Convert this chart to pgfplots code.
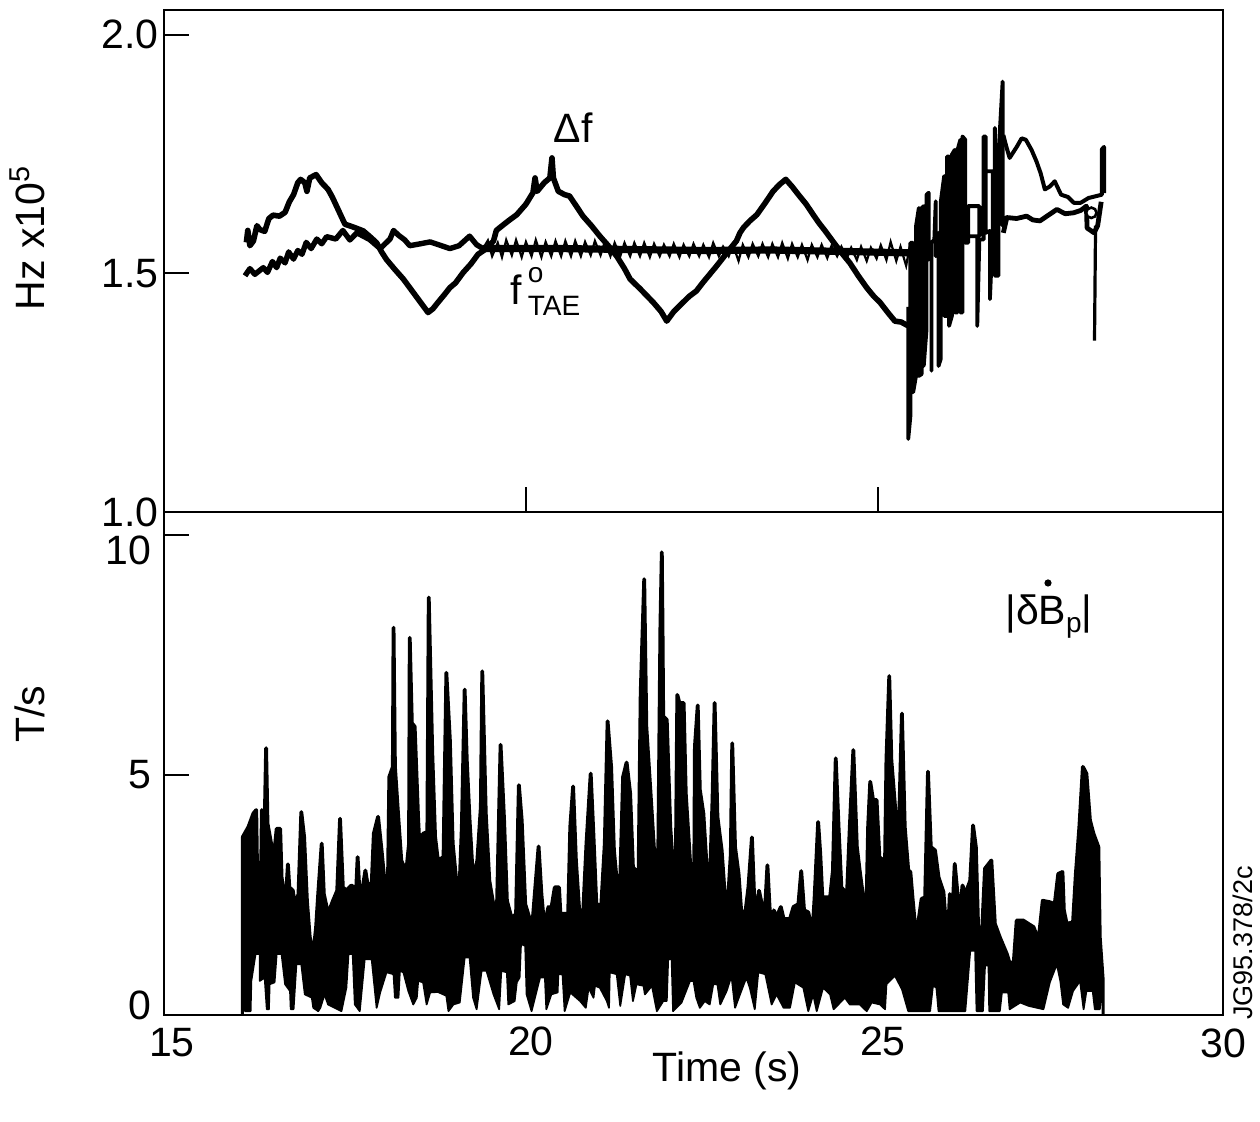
\documentclass[border=0pt]{standalone}
\usepackage{fontspec}
\setmainfont{Liberation Sans}
\usepackage{pgfplots}
\pgfplotsset{compat=1.18}
\newcommand{\bigf}{\fontsize{20.5}{24}\selectfont}
\newcommand{\subf}{\fontsize{14}{16}\selectfont}
\begin{document}
\begin{tikzpicture}
\useasboundingbox (0,0) rectangle (630pt,561pt);
% upper panel
\begin{axis}[at={(82pt,305pt)},anchor=south west,scale only axis,width=529.5pt,height=251pt,
 xmin=14.86,xmax=29.90,ymin=1.0,ymax=2.052,
 xtick={20,25},xticklabels={},ytick={1,1.5,2},yticklabels={1.0,1.5,2.0},
 xtick pos=bottom,ytick pos=left,tick align=inside,
 x tick style={line width=0.9pt,black},y tick style={line width=0.9pt,black},
 major tick length=12.5pt,
 axis line style={line width=0.9pt},
 yticklabel style={font=\bigf,inner sep=0pt,xshift=-2.5pt},
 clip=false]
% Delta f
\addplot[black,line width=2.8pt,line join=round] coordinates {
(16.03,1.565)(16.05,1.590)(16.08,1.558)(16.13,1.568)(16.18,1.600)(16.22,1.592)(16.29,1.588)(16.35,1.615)(16.41,1.622)(16.50,1.620)(16.58,1.628)(16.64,1.650)(16.70,1.665)(16.76,1.690)(16.80,1.697)(16.86,1.690)(16.89,1.672)(16.93,1.700)(17.02,1.707)(17.10,1.690)(17.19,1.676)(17.25,1.660)(17.31,1.641)(17.37,1.622)(17.43,1.603)(17.55,1.597)(17.69,1.589)(17.80,1.575)(17.88,1.564)(17.95,1.545)(18.02,1.529)(18.14,1.508)(18.26,1.488)(18.36,1.468)(18.47,1.446)(18.55,1.430)(18.61,1.418)(18.68,1.426)(18.75,1.439)(18.84,1.455)(18.92,1.470)(19.00,1.480)(19.11,1.502)(19.22,1.520)(19.32,1.540)(19.44,1.552)(19.54,1.568)(19.58,1.590)(19.63,1.596)(19.75,1.610)(19.87,1.623)(20.00,1.645)(20.10,1.669)(20.13,1.700)(20.16,1.672)(20.26,1.690)(20.34,1.700)(20.37,1.742)(20.39,1.700)(20.46,1.672)(20.55,1.665)(20.62,1.662)(20.72,1.640)(20.81,1.620)(20.93,1.600)(21.05,1.578)(21.17,1.558)(21.29,1.536)(21.40,1.510)(21.48,1.488)(21.62,1.468)(21.81,1.439)(21.92,1.420)(22.00,1.400)(22.10,1.420)(22.23,1.439)(22.32,1.452)(22.42,1.463)(22.52,1.482)(22.61,1.498)(22.70,1.514)(22.78,1.529)(22.88,1.548)(22.99,1.568)(23.04,1.585)(23.09,1.596)(23.18,1.610)(23.28,1.623)(23.40,1.648)(23.51,1.672)(23.60,1.686)(23.69,1.697)(23.78,1.682)(23.87,1.665)(23.98,1.645)(24.08,1.623)(24.16,1.606)(24.25,1.589)(24.32,1.575)(24.39,1.561)(24.50,1.540)(24.60,1.522)(24.72,1.495)(24.84,1.470)(24.94,1.452)(25.03,1.439)(25.14,1.418)(25.24,1.400)(25.33,1.398)(25.43,1.390)};
% f TAE, left part
\addplot[black,line width=2.7pt,line join=round] coordinates {
(16.01,1.495)(16.08,1.510)(16.15,1.498)(16.27,1.512)(16.33,1.502)(16.40,1.525)(16.46,1.512)(16.51,1.532)(16.58,1.522)(16.63,1.545)(16.70,1.530)(16.76,1.548)(16.82,1.540)(16.88,1.565)(16.95,1.552)(17.03,1.572)(17.10,1.562)(17.17,1.577)(17.30,1.572)(17.40,1.590)(17.50,1.570)(17.60,1.585)(17.78,1.571)(17.93,1.552)(18.07,1.572)(18.12,1.590)(18.19,1.580)(18.28,1.570)(18.35,1.558)(18.50,1.562)(18.64,1.566)(18.80,1.558)(18.92,1.552)(19.05,1.558)(19.20,1.578)(19.30,1.560)(19.39,1.552)};
% f TAE, central thick band
\addplot[black,line width=3.6pt,line join=round] coordinates {
(19.39,1.552)(20.50,1.552)(21.50,1.550)(22.50,1.548)(23.50,1.549)(24.50,1.546)(25.45,1.543)};
% f TAE, teeth of the band
\addplot[black,line width=1.1pt,line join=miter] coordinates {
(19.39,1.552)(19.46,1.569)(19.52,1.536)(19.60,1.564)(19.66,1.534)(19.72,1.570)(19.80,1.538)(19.86,1.570)(19.94,1.534)(20.00,1.566)(20.08,1.536)(20.14,1.570)(20.22,1.534)(20.28,1.566)(20.36,1.536)(20.42,1.568)(20.50,1.536)(20.56,1.568)(20.64,1.536)(20.70,1.568)(20.78,1.536)(20.84,1.566)(20.92,1.538)(20.98,1.568)(21.06,1.538)(21.12,1.566)(21.20,1.536)(21.26,1.564)(21.34,1.536)(21.40,1.564)(21.48,1.536)(21.54,1.564)(21.62,1.536)(21.68,1.564)(21.76,1.534)(21.82,1.562)(21.90,1.536)(21.96,1.560)(22.04,1.536)(22.10,1.562)(22.18,1.534)(22.24,1.560)(22.32,1.536)(22.38,1.562)(22.46,1.536)(22.52,1.560)(22.60,1.534)(22.66,1.564)(22.74,1.536)(22.80,1.556)(22.88,1.536)(22.94,1.560)(23.02,1.526)(23.08,1.560)(23.16,1.534)(23.22,1.562)(23.30,1.536)(23.36,1.562)(23.44,1.534)(23.50,1.562)(23.58,1.534)(23.64,1.564)(23.72,1.531)(23.78,1.562)(23.86,1.534)(23.92,1.560)(24.00,1.528)(24.06,1.560)(24.14,1.534)(24.20,1.560)(24.28,1.532)(24.34,1.558)(24.42,1.536)(24.48,1.556)(24.56,1.532)(24.62,1.554)(24.70,1.528)(24.76,1.556)(24.84,1.526)(24.90,1.554)(24.98,1.531)(25.04,1.559)(25.12,1.528)(25.18,1.566)(25.26,1.526)(25.32,1.556)(25.40,1.516)(25.45,1.556)};
% oscillating part, both traces
\addplot[black,line width=1.9pt,line join=round] coordinates {
(25.43,1.43)(25.43,1.153)(25.46,1.20)(25.46,1.564)(25.50,1.564)(25.50,1.251)(25.54,1.285)(25.54,1.599)(25.58,1.637)(25.58,1.285)(25.62,1.289)(25.62,1.637)(25.65,1.641)(25.65,1.306)(25.69,1.383)(25.69,1.665)(25.72,1.669)(25.72,1.529)(25.76,1.564)(25.76,1.296)(25.76,1.564)(25.80,1.571)(25.82,1.651)(25.82,1.536)(25.86,1.585)(25.86,1.306)(25.89,1.320)(25.89,1.648)(25.94,1.704)(25.94,1.411)(25.98,1.411)(25.98,1.745)(26.01,1.745)(26.01,1.390)(26.05,1.411)(26.05,1.749)(26.09,1.759)(26.09,1.418)(26.13,1.418)(26.13,1.759)(26.17,1.780)(26.17,1.418)(26.20,1.418)(26.20,1.787)(26.24,1.780)(26.24,1.564)(26.28,1.564)(26.28,1.641)(26.44,1.641)(26.44,1.578)(26.28,1.578)(26.41,1.578)(26.41,1.390)(26.44,1.571)(26.50,1.571)(26.50,1.787)(26.53,1.787)(26.53,1.585)(26.59,1.589)(26.59,1.446)(26.63,1.585)(26.63,1.714)(26.54,1.714)(26.66,1.714)(26.66,1.805)(26.66,1.495)(26.71,1.495)(26.71,1.745)(26.77,1.902)(26.77,1.60)(26.80,1.62)};
% Delta f, right part
\addplot[black,line width=2pt,line join=round] coordinates {
(26.78,1.79)(26.82,1.767)(26.87,1.742)(26.97,1.765)(27.04,1.783)(27.10,1.780)(27.18,1.759)(27.25,1.735)(27.31,1.710)(27.37,1.676)(27.44,1.682)(27.51,1.693)(27.60,1.665)(27.70,1.660)(27.78,1.648)(27.88,1.648)(27.99,1.658)(28.10,1.662)(28.18,1.665)(28.18,1.760)(28.21,1.765)(28.21,1.668)};
% f TAE, right part
\addplot[black,line width=2.4pt,line join=round] coordinates {
(26.78,1.585)(26.83,1.617)(26.97,1.615)(27.11,1.620)(27.20,1.612)(27.30,1.610)(27.42,1.622)(27.54,1.634)(27.66,1.625)(27.78,1.627)(27.88,1.632)(27.96,1.641)(27.97,1.595)(28.07,1.585)(28.12,1.600)(28.17,1.650)};
\addplot[black,line width=1.6pt] coordinates {(28.09,1.600)(28.075,1.359)};
\addplot[only marks,mark=*,mark size=2.6pt,mark options={fill=white,draw=black,line width=1.3pt}] coordinates {(28.03,1.627)};
\end{axis}
% lower panel
\begin{axis}[at={(82pt,53.5pt)},anchor=south west,scale only axis,width=529.5pt,height=251.5pt,
 xmin=14.86,xmax=29.90,ymin=0,ymax=10.48,axis on top,
 xtick={20,25},xticklabels={20,25},
 ytick={0,5,10},yticklabels={{\raisebox{5pt}[0.7em][0pt]{0}},5,{\raisebox{-7.5pt}[0.7em][0pt]{10}}},
 xtick pos=bottom,ytick pos=left,tick align=inside,
 x tick style={draw=none},y tick style={line width=0.9pt,black},
 major tick length=12.5pt,
 axis line style={line width=0.9pt},
 xticklabel style={font=\bigf,inner sep=0pt,yshift=-5.5pt,xshift=2.5pt},
 yticklabel style={font=\bigf,inner sep=0pt,xshift=-6pt}]
\addplot[fill=black,draw=black,line width=1.9pt,line join=round] coordinates {
(15.98,0.3)(15.98,3.71)(16.06,3.92)(16.13,4.20)(16.17,4.27)(16.18,3.22)(16.21,3.01)(16.24,3.05)(16.25,4.27)(16.29,3.99)(16.31,5.56)(16.33,3.99)(16.39,3.50)(16.43,3.43)(16.46,3.88)(16.51,3.88)(16.53,2.87)(16.55,2.66)(16.60,2.66)(16.62,3.14)(16.64,2.66)(16.69,2.59)(16.72,2.28)(16.77,2.52)(16.81,4.23)(16.85,3.71)(16.89,2.38)(16.93,1.62)(16.98,1.27)(17.02,1.83)(17.05,2.52)(17.10,3.57)(17.13,2.52)(17.19,2.11)(17.26,2.38)(17.32,2.59)(17.36,4.09)(17.40,2.66)(17.45,2.59)(17.52,2.70)(17.59,2.63)(17.61,3.29)(17.64,2.45)(17.69,2.73)(17.72,3.01)(17.75,2.73)(17.81,2.73)(17.84,3.78)(17.90,4.13)(17.95,3.43)(18.00,2.66)(18.04,2.70)(18.06,4.96)(18.11,5.17)(18.12,8.07)(18.14,5.17)(18.19,4.06)(18.23,3.22)(18.30,2.98)(18.34,3.57)(18.35,7.86)(18.38,6.08)(18.42,6.01)(18.47,4.06)(18.50,3.19)(18.54,3.78)(18.60,3.81)(18.62,8.70)(18.67,5.45)(18.71,3.71)(18.75,3.22)(18.83,3.29)(18.87,7.13)(18.92,5.73)(18.96,3.57)(19.02,2.66)(19.05,2.38)(19.09,3.92)(19.13,6.78)(19.16,5.31)(19.20,4.06)(19.25,2.80)(19.31,3.22)(19.36,4.34)(19.38,7.16)(19.43,4.20)(19.48,2.80)(19.54,2.28)(19.59,2.31)(19.64,5.63)(19.69,4.06)(19.73,2.38)(19.80,2.00)(19.86,2.11)(19.90,4.79)(19.94,4.06)(19.99,2.31)(20.06,1.97)(20.10,2.04)(20.18,3.51)(20.22,2.52)(20.26,1.86)(20.32,2.25)(20.36,2.21)(20.41,2.66)(20.47,2.66)(20.49,2.11)(20.60,2.11)(20.63,3.92)(20.67,4.76)(20.71,3.22)(20.76,2.11)(20.81,2.04)(20.86,3.57)(20.92,5.03)(20.96,3.71)(21.00,2.31)(21.07,2.28)(21.12,3.57)(21.16,6.12)(21.21,5.17)(21.25,3.43)(21.29,2.80)(21.34,2.84)(21.38,4.96)(21.43,5.26)(21.48,4.62)(21.52,3.08)(21.60,2.94)(21.63,6.71)(21.68,9.08)(21.71,6.01)(21.77,4.62)(21.82,3.43)(21.88,3.43)(21.91,8.10)(21.93,9.64)(21.94,8.10)(21.95,6.22)(22.00,6.15)(22.05,3.92)(22.08,3.29)(22.13,3.30)(22.15,6.67)(22.18,6.50)(22.24,6.50)(22.27,4.62)(22.33,3.22)(22.35,2.80)(22.39,2.80)(22.40,5.59)(22.44,6.45)(22.47,4.69)(22.52,4.20)(22.57,3.01)(22.61,2.63)(22.65,4.48)(22.68,6.50)(22.72,4.13)(22.78,3.43)(22.83,2.38)(22.87,2.38)(22.91,3.36)(22.93,5.66)(22.97,3.50)(23.02,2.94)(23.06,2.11)(23.12,2.18)(23.16,2.66)(23.21,3.70)(23.24,2.52)(23.28,2.18)(23.31,2.59)(23.35,2.31)(23.40,2.31)(23.43,3.12)(23.46,2.25)(23.49,1.76)(23.52,2.18)(23.56,2.04)(23.62,2.25)(23.66,2.00)(23.75,2.00)(23.80,2.25)(23.87,2.31)(23.91,3.00)(23.95,2.18)(24.01,2.14)(24.07,1.72)(24.10,2.45)(24.15,4.02)(24.18,3.36)(24.21,2.45)(24.32,2.45)(24.36,3.01)(24.40,5.35)(24.44,3.92)(24.48,2.66)(24.56,2.52)(24.60,3.92)(24.65,5.52)(24.70,3.50)(24.74,3.01)(24.79,2.45)(24.84,2.49)(24.86,3.92)(24.89,4.86)(24.93,4.48)(24.98,4.48)(25.02,3.29)(25.10,3.19)(25.12,5.31)(25.16,7.06)(25.19,5.31)(25.26,4.02)(25.30,4.02)(25.34,6.28)(25.38,3.92)(25.43,3.01)(25.46,2.98)(25.49,2.45)(25.54,1.65)(25.57,1.90)(25.62,2.42)(25.67,2.45)(25.71,5.07)(25.75,3.50)(25.81,3.43)(25.86,2.87)(25.93,2.56)(25.97,1.79)(26.00,1.83)(26.02,2.52)(26.05,1.41)(26.07,2.52)(26.09,3.15)(26.13,2.52)(26.17,2.18)(26.20,2.70)(26.24,2.52)(26.31,2.80)(26.35,3.95)(26.39,3.50)(26.43,1.44)(26.47,1.48)(26.52,3.05)(26.61,3.22)(26.66,1.90)(26.73,1.62)(26.83,1.27)(26.88,1.03)(26.93,1.13)(26.97,1.97)(27.06,1.97)(27.21,1.83)(27.28,1.55)(27.34,2.38)(27.44,2.35)(27.51,2.31)(27.56,2.94)(27.62,2.98)(27.64,2.18)(27.68,1.90)(27.77,1.93)(27.81,2.94)(27.86,3.92)(27.91,5.17)(27.96,5.03)(28.01,4.06)(28.06,3.78)(28.13,3.50)(28.15,1.62)(28.19,0.78)} \closedcycle;
\addplot[fill=white,draw=black,line width=0.9pt,line join=round] coordinates {
(15.98,0.3)(16.01,0.08)(16.09,0.08)(16.10,0.71)(16.16,1.27)(16.22,1.27)(16.22,0.71)(16.29,0.78)(16.32,0.12)(16.35,0.12)(16.36,0.64)(16.43,0.68)(16.46,1.27)(16.53,1.27)(16.58,0.64)(16.65,0.50)(16.66,0.12)(16.70,0.12)(16.74,1.06)(16.81,1.06)(16.86,0.43)(16.96,0.36)(16.98,0.15)(17.05,0.08)(17.08,0.15)(17.14,0.43)(17.19,0.22)(17.38,0.08)(17.45,0.57)(17.48,1.27)(17.54,1.27)(17.57,0.22)(17.64,0.08)(17.71,1.16)(17.81,1.16)(17.88,0.15)(17.93,0.47)(18.02,0.89)(18.12,0.85)(18.14,0.36)(18.19,0.36)(18.21,0.92)(18.26,0.89)(18.33,0.50)(18.40,0.22)(18.45,0.36)(18.47,0.71)(18.54,0.68)(18.59,0.22)(18.64,0.47)(18.75,0.48)(18.87,0.40)(18.90,0.08)(18.97,0.22)(19.06,0.26)(19.13,1.20)(19.20,1.20)(19.25,0.36)(19.30,0.12)(19.37,0.92)(19.44,0.92)(19.54,0.43)(19.62,0.12)(19.65,0.92)(19.73,0.89)(19.75,0.22)(19.84,0.29)(19.87,0.68)(19.91,0.78)(19.93,1.48)(19.99,1.44)(20.01,0.43)(20.08,0.08)(20.20,0.78)(20.27,0.78)(20.29,0.12)(20.36,0.43)(20.45,0.47)(20.46,0.85)(20.52,0.85)(20.55,0.08)(20.63,0.47)(20.77,0.29)(20.85,0.15)(20.89,0.57)(20.96,0.36)(20.98,0.61)(21.05,0.57)(21.15,0.29)(21.18,0.15)(21.19,0.89)(21.29,0.85)(21.34,0.19)(21.41,0.85)(21.48,0.82)(21.52,0.29)(21.57,0.64)(21.67,0.61)(21.69,0.43)(21.79,0.61)(21.86,0.08)(21.95,0.29)(22.00,0.29)(22.02,1.16)(22.07,1.16)(22.09,0.08)(22.21,0.26)(22.33,0.71)(22.38,0.71)(22.42,0.36)(22.47,0.15)(22.54,0.29)(22.61,0.22)(22.66,0.64)(22.72,0.64)(22.76,0.22)(22.85,0.50)(22.92,0.82)(22.97,0.15)(23.04,0.43)(23.13,0.78)(23.18,0.57)(23.25,0.12)(23.30,0.89)(23.40,0.85)(23.49,0.22)(23.56,0.43)(23.66,0.15)(23.75,0.15)(23.82,0.68)(23.94,0.57)(24.01,0.08)(24.08,0.43)(24.13,0.08)(24.22,0.57)(24.32,0.43)(24.37,0.12)(24.53,0.36)(24.60,0.22)(24.74,0.22)(24.84,0.08)(24.91,0.26)(25.03,0.22)(25.10,0.12)(25.12,0.64)(25.24,0.82)(25.34,0.54)(25.43,0.08)(25.74,0.08)(25.78,0.61)(25.83,0.57)(25.86,0.08)(26.24,0.08)(26.31,1.34)(26.38,1.34)(26.40,0.08)(26.49,0.08)(26.52,1.03)(26.57,1.03)(26.58,0.08)(26.73,0.08)(26.76,0.47)(26.85,0.47)(26.87,0.12)(27.02,0.26)(27.14,0.19)(27.35,0.12)(27.44,0.68)(27.54,1.06)(27.59,0.71)(27.63,0.22)(27.70,0.15)(27.77,0.50)(27.87,0.71)(27.92,0.12)(27.96,0.50)(28.05,0.50)(28.08,0.12)(28.15,0.12)(28.19,0.78)} \closedcycle;
\end{axis}
% texts
\node[rotate=90,anchor=base,font=\bigf] at (22.5pt,442pt) {Hz x10\textsuperscript{5}};
\node[rotate=90,anchor=base,font=\bigf] at (22.5pt,204pt) {T/s};
\node[font=\bigf] at (363.5pt,25.5pt) {Time (s)};
\node[font=\bigf,inner sep=0pt] at (86pt,39.5pt) {15};
\node[font=\bigf,inner sep=0pt] at (611.5pt,39.5pt) {30};
\node[rotate=90,anchor=base,font=\fontsize{13.5}{15}\selectfont,inner sep=0pt] at (626pt,89.5pt) {JG95.378/2c};
\node[anchor=base,font=\bigf,inner sep=0pt] at (286.5pt,489.5pt) {Δf};
\node[anchor=base west,font=\bigf,inner sep=0pt] at (255pt,408.5pt) {f\hspace{3pt}\rlap{\raisebox{11pt}{\subf o}}\raisebox{-5.5pt}{\subf TAE}};
\node[anchor=base west,font=\bigf,inner sep=0pt] at (502.5pt,248.5pt) {|δB\raisebox{-4pt}{\subf p}|};
\fill (524pt,269.5pt) circle (1.8pt);
\end{tikzpicture}
\end{document}
